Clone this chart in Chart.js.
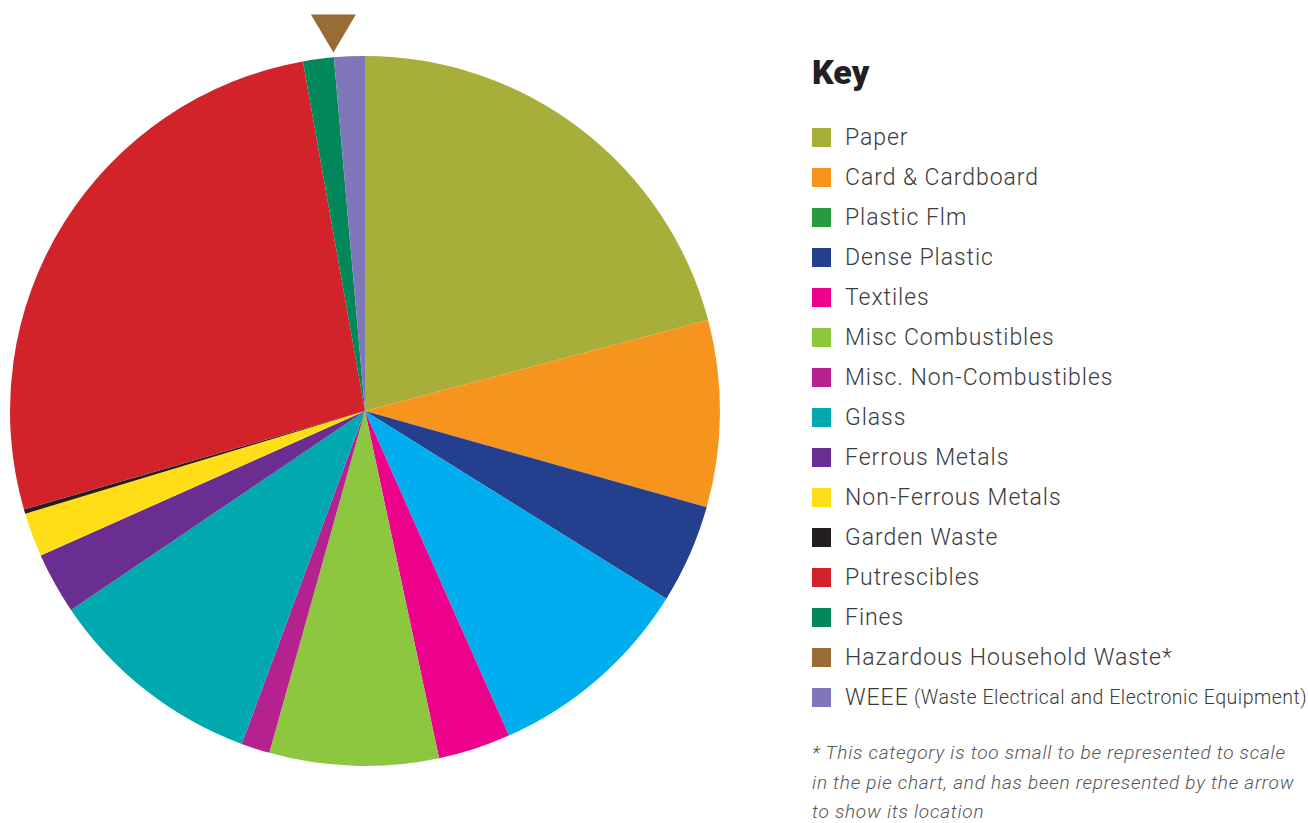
<!DOCTYPE html>
<html>
<head>
<meta charset="utf-8">
<script src="https://cdn.jsdelivr.net/npm/chart.js@4"></script>
<style>
  html, body { margin: 0; padding: 0; background: #fff; width: 1308px; height: 823px; overflow: hidden; }
  #pieWrap { position: absolute; left: 0; top: 0; width: 730px; height: 823px; }
  #key { position: absolute; left: 812px; top: 0; width: 496px; font-family: Roboto, "Noto Sans", sans-serif; color: #3b3b3b; }
  #keyTitle { position: absolute; left: 0; top: 52px; font-size: 34px; font-weight: 900; color: #231f20; line-height: 40px; letter-spacing: 0px; }
  #rows { position: absolute; left: 0; top: 117.5px; }
  .row { height: 40px; display: flex; align-items: center; white-space: nowrap; }
  .sw { width: 19px; height: 19px; margin-right: 14px; flex: none; }
  .lbl { font-size: 23px; font-weight: 300; letter-spacing: 0.95px; }
  .sub { font-size: 19.5px; font-weight: 300; letter-spacing: 0.5px; }
  #note { position: absolute; left: 0; top: 738px; font-size: 19px; font-style: italic; font-weight: 300; color: #555; line-height: 29.5px; white-space: nowrap; letter-spacing: 0.75px; }
</style>
</head>
<body>
<div id="pieWrap"><canvas id="pie"></canvas></div>
<div id="key">
  <div id="keyTitle">Key</div>
  <div id="rows"></div>
  <div id="note">* This category is too small to be represented to scale<br>in the pie chart, and has been represented by the arrow<br>to show its location</div>
</div>
<script>
// ---- Pie data (clockwise from 12 o'clock), percentages ----
const pieLabels = ['Paper', 'Card & Cardboard', 'Dense Plastic', 'Plastic Film', 'Textiles',
  'Misc Combustibles', 'Misc. Non-Combustibles', 'Glass', 'Ferrous Metals', 'Non-Ferrous Metals',
  'Garden Waste', 'Putrescibles', 'Fines', 'Hazardous Household Waste', 'WEEE'];
const pieValues = [20.9, 8.5, 4.5, 9.5, 3.3, 7.7, 1.3, 9.9, 2.8, 2.0, 0.2, 26.7, 1.4, 0, 1.4];
const pieColors = ['#a8ae3a', '#f7941d', '#253f8f', '#00aeef', '#ec008c',
  '#8dc63f', '#b5218f', '#00a9b0', '#6a2d91', '#ffde17',
  '#231f20', '#d2232a', '#00875a', '#986b37', '#8077bb'];

// ---- Key (legend) ----
const keyLabels = ['Paper', 'Card & Cardboard', 'Plastic Flm', 'Dense Plastic', 'Textiles',
  'Misc Combustibles', 'Misc. Non-Combustibles', 'Glass', 'Ferrous Metals', 'Non-Ferrous Metals',
  'Garden Waste', 'Putrescibles', 'Fines', 'Hazardous Household Waste*', 'WEEE'];
const keySubLabels = ['', '', '', '', '', '', '', '', '', '', '', '', '', '', '(Waste Electrical and Electronic Equipment)'];
const keyColors = ['#a8ae3a', '#f7941d', '#2a9a3f', '#253f8f', '#ec008c',
  '#8dc63f', '#b5218f', '#00a9b0', '#6a2d91', '#ffde17',
  '#231f20', '#d2232a', '#00875a', '#986b37', '#8077bb'];

const arrowCategory = 'Hazardous Household Waste';

const rows = document.getElementById('rows');
keyLabels.forEach((l, i) => {
  const r = document.createElement('div');
  r.className = 'row';
  const s = document.createElement('div');
  s.className = 'sw';
  s.style.background = keyColors[i];
  r.appendChild(s);
  const t = document.createElement('span');
  t.className = 'lbl';
  t.textContent = l;
  r.appendChild(t);
  if (keySubLabels[i]) {
    const u = document.createElement('span');
    u.className = 'sub';
    u.textContent = '\u00a0' + keySubLabels[i];
    r.appendChild(u);
  }
  rows.appendChild(r);
});

const arrowPlugin = {
  id: 'arrowPlugin',
  afterDatasetsDraw(chart) {
    const idx = pieLabels.indexOf(arrowCategory);
    const arc = chart.getDatasetMeta(0).data[idx];
    if (!arc) return;
    const p = arc.getProps(['x', 'y', 'startAngle', 'outerRadius'], true);
    const d = p.outerRadius + 5;
    const tx = p.x + d * Math.cos(p.startAngle);
    const ty = p.y + d * Math.sin(p.startAngle);
    const ctx = chart.ctx;
    ctx.save();
    ctx.fillStyle = pieColors[idx];
    ctx.beginPath();
    ctx.moveTo(tx, ty);
    ctx.lineTo(tx - 22.5, ty - 38);
    ctx.lineTo(tx + 22.5, ty - 38);
    ctx.closePath();
    ctx.fill();
    ctx.restore();
  }
};

new Chart(document.getElementById('pie'), {
  type: 'pie',
  data: {
    labels: pieLabels,
    datasets: [{
      data: pieValues,
      backgroundColor: pieColors,
      borderWidth: 0
    }]
  },
  options: {
    responsive: true,
    maintainAspectRatio: false,
    animation: false,
    layout: { padding: { top: 56, left: 10, right: 10, bottom: 57 } },
    plugins: {
      legend: { display: false },
      tooltip: { enabled: false }
    }
  },
  plugins: [arrowPlugin]
});
</script>
</body>
</html>
